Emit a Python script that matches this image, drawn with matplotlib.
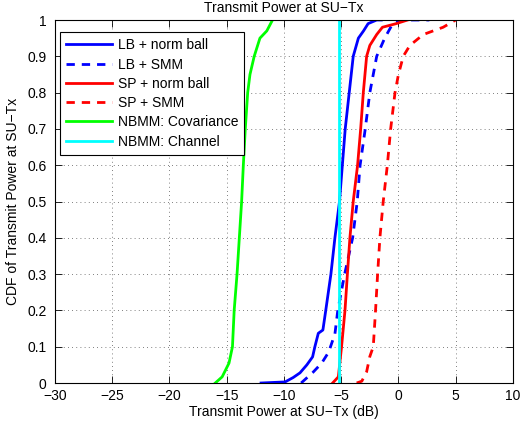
import matplotlib
matplotlib.use("Agg")
import matplotlib.pyplot as plt

plt.rcParams['font.family'] = ['Liberation Sans', 'DejaVu Sans']

# CDF curves (x in dB, y = CDF)
lb_ball_x = [-12.0, -9.9, -9.2, -8.6, -8.0, -7.5, -7.3, -7.0, -6.6, -6.35, -5.9, -5.55,
             -5.15, -4.9, -4.65, -4.3, -3.95, -3.5, -3.05, -2.65, -1.9, -1.5]
lb_ball_y = [0, 0.003, 0.015, 0.028, 0.05, 0.072, 0.1, 0.137, 0.146, 0.2, 0.3, 0.4,
             0.5, 0.6, 0.7, 0.8, 0.9, 0.95, 0.97, 0.99, 1.0, 1.0]

lb_smm_x = [-8.5, -7.45, -6.7, -6.1, -5.55, -5.3, -4.7, -4.0, -3.6, -3.35, -2.9, -2.5,
            -1.9, -1.2, -0.5, 0.5, 2.7]
lb_smm_y = [0, 0.03, 0.055, 0.085, 0.135, 0.2, 0.3, 0.4, 0.5, 0.6, 0.7, 0.8,
            0.9, 0.95, 0.99, 1.0, 1.0]

sp_ball_x = [-5.75, -5.25, -4.97, -4.67, -4.46, -4.24, -3.95, -3.57, -3.3, -3.07, -2.78,
             -2.5, -1.9, -1.4, -0.2, 0.8]
sp_ball_y = [0, 0.017, 0.1, 0.2, 0.3, 0.4, 0.5, 0.6, 0.7, 0.8, 0.9,
             0.93, 0.96, 0.98, 0.99, 1.0]

sp_smm_x = [-3.65, -3.2, -2.78, -2.5, -2.2, -2.0, -1.82, -1.62, -1.33, -0.97, -0.68, -0.3,
            0.0, 0.42, 1.0, 2.17, 3.9, 5.0]
sp_smm_y = [0, 0.005, 0.031, 0.073, 0.1, 0.2, 0.3, 0.4, 0.5, 0.6, 0.7, 0.8,
            0.85, 0.9, 0.93, 0.96, 0.98, 1.0]

nb_cov_x = [-16.0, -15.4, -14.8, -14.5, -14.35, -14.1, -13.9, -13.7, -13.55, -13.38,
            -13.17, -12.97, -12.6, -12.1, -11.5, -11.0]
nb_cov_y = [0, 0.017, 0.055, 0.1, 0.2, 0.3, 0.4, 0.5, 0.6, 0.7,
            0.8, 0.85, 0.9, 0.95, 0.97, 1.0]

nb_chan_x = [-5.2, -5.2]
nb_chan_y = [0, 1]

x_ticks = list(range(-30, 11, 5))
y_ticks = [i / 10 for i in range(11)]
y_labels = ['0'] + [f"{v:.1f}" for v in y_ticks[1:-1]] + ['1']

fig = plt.figure(figsize=(5.25, 4.32), dpi=100)
ax = fig.add_axes([0.1048, 0.1134, 0.8722, 0.8403])

lw = 2.0
ax.plot(lb_ball_x, lb_ball_y, color='#0000ff', lw=lw, label='LB + norm ball')
ax.plot(lb_smm_x, lb_smm_y, color='#0000ff', lw=lw, ls=(0, (3, 2.5)), label='LB + SMM')
ax.plot(sp_ball_x, sp_ball_y, color='#ff0000', lw=lw, label='SP + norm ball')
ax.plot(sp_smm_x, sp_smm_y, color='#ff0000', lw=lw, ls=(0, (3, 2.5)), label='SP + SMM')
ax.plot(nb_cov_x, nb_cov_y, color='#00ff00', lw=lw, label='NBMM: Covariance')
ax.plot(nb_chan_x, nb_chan_y, color='#00ffff', lw=lw, label='NBMM: Channel')

ax.set_xlim(-30, 10)
ax.set_ylim(0, 1)
ax.set_xticks(x_ticks)
ax.set_xticklabels([str(t).replace('-', '\u2212') for t in x_ticks])
ax.set_yticks(y_ticks)
ax.set_yticklabels(y_labels)
ax.tick_params(direction='in', top=True, right=True, length=5, labelsize=10, width=0.6)
ax.tick_params(axis='y', pad=6)
ax.tick_params(axis='x', pad=4)
ax.grid(True, ls=(0, (1, 4)), color='#555555', lw=0.6)
for s in ax.spines.values():
    s.set_linewidth(0.8)

ax.set_xlabel('Transmit Power at SU\u2212Tx (dB)', fontsize=10, labelpad=2)
ax.set_ylabel('CDF of Transmit Power at SU\u2212Tx', fontsize=10, labelpad=5)
ax.set_title('Transmit Power at SU\u2212Tx', fontsize=10, pad=6)

leg = ax.legend(loc='upper left', bbox_to_anchor=(0.011, 0.967), fontsize=10,
                fancybox=False, framealpha=1, edgecolor='black', handlelength=3.3,
                borderaxespad=0, labelspacing=0.38, handletextpad=0.4, borderpad=0.45)
leg.get_frame().set_linewidth(0.8)

fig.savefig('out.png', dpi=100)
